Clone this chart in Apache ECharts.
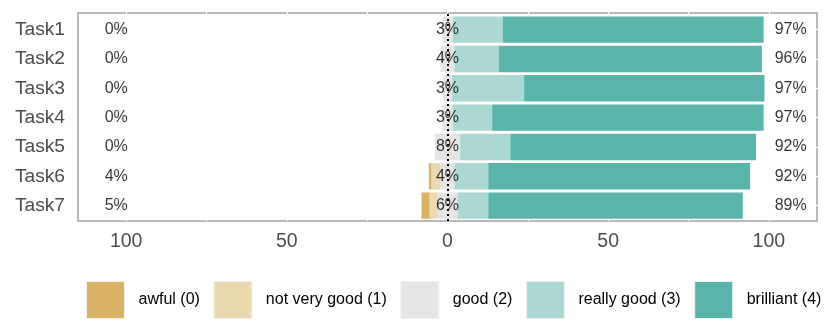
<!DOCTYPE html>
<html>
<head>
<meta charset="utf-8">
<script src="https://cdn.jsdelivr.net/npm/echarts@6/dist/echarts.min.js"></script>
<style>html,body{margin:0;padding:0;background:#fff}#c{width:830px;height:332px}</style>
</head>
<body>
<div id="c"></div>
<script>
const categories = ['Task1','Task2','Task3','Task4','Task5','Task6','Task7'];
const awful       = [0, 0, 0, 0, 0, 0.8, 2.5];
const notVeryGood = [0, 0, 0, 0, 0, 2.8, 2.5];
const good        = [3.2, 4.3, 2.7, 3.2, 7.9, 4.4, 6.2];
const reallyGood  = [15.6, 13.8, 22.5, 12.3, 15.6, 10.5, 9.6];
const brilliant   = [81.2, 81.9, 74.8, 84.5, 76.5, 81.5, 79.2];
const lowLabels     = ['0%','0%','0%','0%','0%','4%','5%'];
const neutralLabels = ['3%','4%','3%','3%','8%','4%','6%'];
const highLabels    = ['97%','96%','97%','97%','92%','92%','89%'];
const xTickLabels = [-100, -50, 0, 50, 100];
const xTicks = [-100, -75, -50, -25, 0, 25, 50, 75, 100];
const levelNames = ['awful (0)','not very good (1)','good (2)','really good (3)','brilliant (4)'];
const levelColors = ['#d8b365','#ebd9b0','#e5e5e5','#acd8d4','#5ab4ac'];

const FONT = 'Liberation Sans, Arial, Helvetica, sans-serif';
const XMIN = -115, XMAX = 115;
const LEFT_POS = -103.1, RIGHT_POS = 106.8;

function barSeries(name, color, values, sign) {
  return {
    type: 'bar', name: name, stack: 'total', xAxisIndex: 2, yAxisIndex: 1,
    barCategoryGap: '10%', z: 3, silent: true,
    itemStyle: { color: color },
    data: values.map(v => sign * v)
  };
}
function labelSeries(xPos, texts) {
  return {
    type: 'scatter', xAxisIndex: 2, yAxisIndex: 1, z: 6, silent: true,
    symbol: 'circle', symbolSize: 1, itemStyle: { color: 'rgba(0,0,0,0)' },
    label: { show: true, position: 'inside', fontFamily: FONT, fontSize: 16, color: '#000',
             padding: [1, 0, 0, 0], formatter: p => texts[p.dataIndex] },
    data: categories.map(c => [xPos, c])
  };
}

const chart = echarts.init(document.getElementById('c'), null, { renderer: 'canvas' });
chart.setOption({
  animation: false,
  backgroundColor: '#fff',
  textStyle: { fontFamily: FONT },
  grid: [
    { left: 78, width: 739, top: 13, height: 208, show: true, borderColor: '#b8b8b8', borderWidth: 2,
      backgroundColor: 'transparent', outerBoundsMode: 'none', containLabel: false },
    { left: 78, width: 739, top: 15, height: 205.3, outerBoundsMode: 'none', containLabel: false }
  ],
  xAxis: [
    { type: 'value', gridIndex: 0, min: XMIN, max: XMAX, position: 'bottom', offset: 2, z: 1,
      axisLine: { show: false }, splitLine: { show: false },
      axisTick: { show: true, inside: true, length: 4, customValues: xTicks, lineStyle: { color: '#fff', width: 1.2 } },
      axisLabel: { show: true, customValues: xTickLabels, fontSize: 19.5, color: '#4d4d4d', margin: 9,
                   formatter: v => String(Math.abs(v)) } },
    { type: 'value', gridIndex: 0, min: XMIN, max: XMAX, position: 'top', offset: 2, z: 1,
      axisLine: { show: false }, splitLine: { show: false }, axisLabel: { show: false },
      axisTick: { show: true, inside: true, length: 4, customValues: xTicks, lineStyle: { color: '#fff', width: 1.2 } } },
    { type: 'value', gridIndex: 1, min: XMIN, max: XMAX, show: false }
  ],
  yAxis: [
    { type: 'value', gridIndex: 0, min: 0, max: 1, show: false },
    { type: 'category', gridIndex: 1, data: categories, inverse: true, position: 'left', offset: 2, z: 1,
      axisLine: { show: false }, splitLine: { show: false },
      axisTick: { show: true, inside: true, length: 4, alignWithLabel: true, lineStyle: { color: '#fff', width: 1.2 } },
      axisLabel: { fontSize: 19.2, color: '#4d4d4d', margin: 11, padding: [4, 0, 0, 0] } },
    { type: 'category', gridIndex: 1, data: categories, inverse: true, position: 'right', offset: 2, z: 1,
      axisLine: { show: false }, splitLine: { show: false }, axisLabel: { show: false },
      axisTick: { show: true, inside: true, length: 4, alignWithLabel: true, lineStyle: { color: '#fff', width: 1.2 } } }
  ],
  legend: {
    data: levelNames, left: 86, top: 281, width: 800, padding: 0, itemWidth: 38, itemHeight: 37, itemGap: 13.5,
    icon: 'rect', selectedMode: false,
    itemStyle: { borderColor: '#f0f0f0', borderWidth: 1 },
    textStyle: { fontFamily: FONT, fontSize: 16, color: '#000', padding: [0, 0, 0, 9] }
  },
  series: [
    { type: 'line', xAxisIndex: 0, yAxisIndex: 0, data: [], z: 2, silent: true,
      markLine: { silent: true, symbol: 'none', label: { show: false },
                  lineStyle: { color: '#000', type: [2, 3], width: 2 },
                  data: [{ xAxis: 0 }] } },
    barSeries(levelNames[2], levelColors[2], good.map(v => v / 2), -1),
    barSeries(levelNames[2], levelColors[2], good.map(v => v / 2), 1),
    barSeries(levelNames[1], levelColors[1], notVeryGood, -1),
    barSeries(levelNames[3], levelColors[3], reallyGood, 1),
    barSeries(levelNames[0], levelColors[0], awful, -1),
    barSeries(levelNames[4], levelColors[4], brilliant, 1),
    labelSeries(LEFT_POS, lowLabels),
    labelSeries(0, neutralLabels),
    labelSeries(RIGHT_POS, highLabels)
  ]
});
</script>
</body>
</html>
